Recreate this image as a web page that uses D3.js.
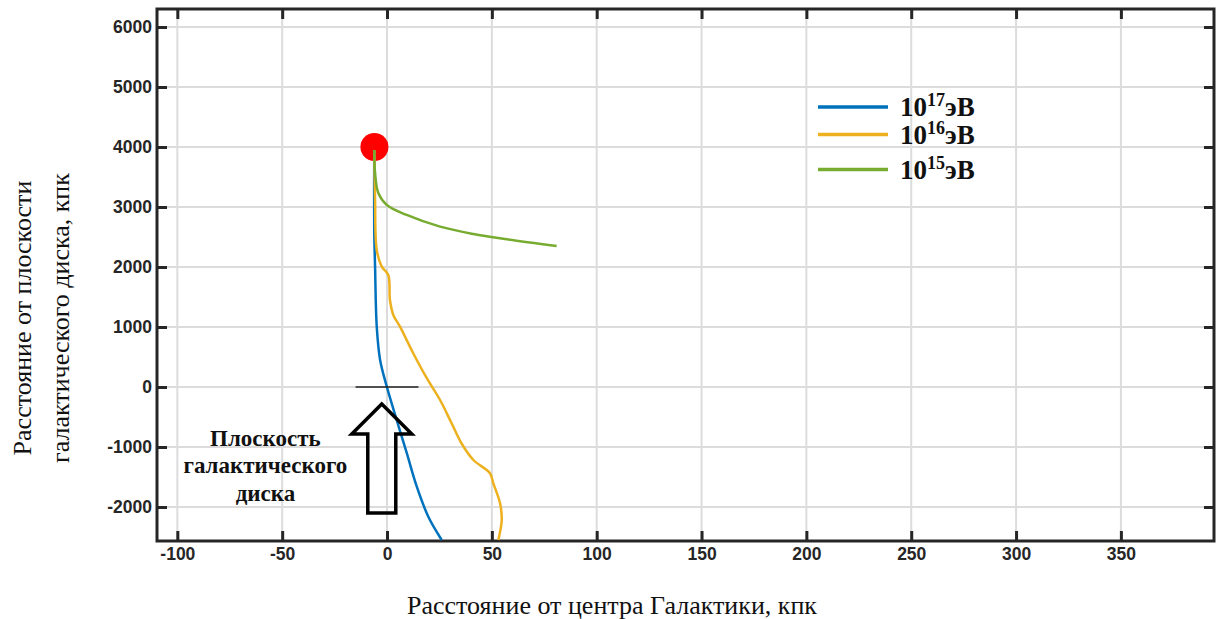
<!DOCTYPE html>
<html>
<head>
<meta charset="utf-8">
<script src="https://cdn.jsdelivr.net/npm/d3@7"></script>
<style>
  body { margin: 0; background: #fff; }
  .tick text { font-family: "Liberation Sans", Arial, sans-serif; font-weight: bold; font-size: 17.5px; fill: #262626; }
</style>
</head>
<body>
<div id="chart"></div>
<script>
// Data (x: kpc from galactic centre, y: kpc from disk plane)
const xTicks = [-100, -50, 0, 50, 100, 150, 200, 250, 300, 350];
const yTicks = [-2000, -1000, 0, 1000, 2000, 3000, 4000, 5000, 6000];

const e17x = [-6.1, -6.1, -5.7, -4.9, -3.3, -0.1, 4.6, 9.4, 14.2, 19.7, 26.1];
const e17y = [3950, 2617, 2005, 1005, 450, 5, -550, -1100, -1662, -2162, -2550];

const e16x = [-6.1, -5.7, -4.9, -2.5, 0.6, 1.4, 3.0, 6.2, 12.5, 18.9, 25.3, 30.8, 35.5, 41.2, 49.1, 50.7, 53.9, 54.7, 53.1];
const e16y = [3950, 3117, 2283, 2005, 1867, 1450, 1200, 1005, 562, 150, -217, -605, -938, -1217, -1438, -1605, -1938, -2217, -2550];

const e15x = [-6.1, -5.7, -4.1, -0.1, 9.4, 25.3, 41.2, 57.2, 80.9];
const e15y = [3950, 3567, 3228, 3033, 2867, 2672, 2550, 2462, 2350];

const source = [-6, 4000];
const diskLine = [-15, 15];

const seriesNames = ["17", "16", "15"];
const seriesColors = ["#0072BD", "#EDB120", "#77AC30"];

// Environment
const W = 1216, H = 619;
const margin = {top: 9, right: 2, bottom: 78, left: 157};
const width = W - margin.left - margin.right;
const height = H - margin.top - margin.bottom;

const svg = d3.select("#chart").append("svg")
  .attr("width", W).attr("height", H)
  .style("background", "#fff");

const g = svg.append("g").attr("transform", "translate(" + margin.left + "," + margin.top + ")");

const x = d3.scaleLinear().domain([-109.7, 394.4]).range([0, width]);
const y = d3.scaleLinear().domain([-2567, 6300]).range([height, 0]);

// grid
g.append("g").selectAll("line").data(xTicks).join("line")
  .attr("x1", d => x(d)).attr("x2", d => x(d))
  .attr("y1", 0).attr("y2", height)
  .attr("stroke", "#dcdcdc").attr("stroke-width", 2);
g.append("g").selectAll("line").data(yTicks).join("line")
  .attr("y1", d => y(d)).attr("y2", d => y(d))
  .attr("x1", 0).attr("x2", width)
  .attr("stroke", "#dcdcdc").attr("stroke-width", 2);

// axes (ticks inward)
function styleAxis(sel) {
  sel.select(".domain").remove();
  sel.selectAll(".tick line").attr("stroke", "#262626").attr("stroke-width", 3);
}
const fmt = d => String(d);
g.append("g").attr("transform", "translate(0," + height + ")")
  .call(d3.axisBottom(x).tickValues(xTicks).tickSize(-10).tickPadding(7).tickFormat(fmt))
  .call(styleAxis);
g.append("g")
  .call(d3.axisTop(x).tickValues(xTicks).tickSize(-10).tickFormat(""))
  .call(styleAxis);
g.append("g")
  .call(d3.axisLeft(y).tickValues(yTicks).tickSize(-10).tickPadding(5).tickFormat(fmt))
  .call(styleAxis);
g.append("g").attr("transform", "translate(" + width + ",0)")
  .call(d3.axisRight(y).tickValues(yTicks).tickSize(-10).tickFormat(""))
  .call(styleAxis);

// frame
g.append("rect").attr("width", width).attr("height", height)
  .attr("fill", "none").attr("stroke", "#262626").attr("stroke-width", 3);

// trajectories
const line = d3.line().x(d => x(d[0])).y(d => y(d[1])).curve(d3.curveCatmullRom.alpha(0.5));
const series = [d3.zip(e17x, e17y), d3.zip(e16x, e16y), d3.zip(e15x, e15y)];

g.append("circle").attr("cx", x(source[0])).attr("cy", y(source[1])).attr("r", 14).attr("fill", "#ff0000");

series.forEach((s, i) => {
  g.append("path").datum(s).attr("d", line)
    .attr("fill", "none").attr("stroke", seriesColors[i]).attr("stroke-width", 2.5);
});

// disk plane marker
g.append("line")
  .attr("x1", x(diskLine[0])).attr("x2", x(diskLine[1]))
  .attr("y1", y(0)).attr("y2", y(0))
  .attr("stroke", "#222").attr("stroke-width", 1.3);

// hollow arrow pointing at the plane
const ax = x(-2.5), tipY = y(0) + 17;
const arrowPts = [
  [ax, tipY], [ax + 30, tipY + 30], [ax + 14, tipY + 30], [ax + 14, tipY + 109],
  [ax - 14, tipY + 109], [ax - 14, tipY + 30], [ax - 30, tipY + 30]
];
g.append("polygon").attr("points", arrowPts.map(p => p.join(",")).join(" "))
  .attr("fill", "none").attr("stroke", "#000").attr("stroke-width", 3.5).attr("stroke-linejoin", "miter");

// annotation
const note = ["Плоскость", "галактического", "диска"];
g.append("text")
  .attr("x", x(-58)).attr("y", y(0) + 59)
  .attr("text-anchor", "middle")
  .style("font-family", "'Liberation Serif', 'Times New Roman', serif")
  .style("font-weight", "bold").style("font-size", "23px").attr("fill", "#111")
  .selectAll("tspan").data(note).join("tspan")
  .attr("x", x(-58)).attr("dy", (d, i) => i ? 27.5 : 0).text(d => d);

// legend
const legend = g.append("g").attr("transform", "translate(" + (818 - margin.left) + "," + (107 - margin.top) + ")");
seriesNames.forEach((n, i) => {
  const row = legend.append("g").attr("transform", "translate(0," + [0, 27.5, 62.5][i] + ")");
  row.append("line").attr("x1", 0).attr("x2", 70).attr("stroke", seriesColors[i]).attr("stroke-width", 3.5);
  const t = row.append("text").attr("x", 82).attr("y", 9)
    .style("font-family", "'Liberation Serif', 'Times New Roman', serif")
    .style("font-weight", "bold").style("font-size", "27px").attr("fill", "#111");
  t.append("tspan").text("10");
  t.append("tspan").attr("dy", -10).style("font-size", "18px").text(n);
  t.append("tspan").attr("dy", 10).text("эВ");
});

// axis titles
svg.append("text")
  .attr("x", 612).attr("y", 614).attr("text-anchor", "middle")
  .style("font-family", "'Liberation Serif', 'Times New Roman', serif")
  .style("font-size", "26px").attr("fill", "#111")
  .text("Расстояние от центра Галактики, кпк");

const yTitle = svg.append("text")
  .attr("transform", "translate(31,318) rotate(-90)")
  .attr("text-anchor", "middle")
  .style("font-family", "'Liberation Serif', 'Times New Roman', serif")
  .style("font-size", "26px").attr("fill", "#111");
yTitle.append("tspan").attr("x", 0).attr("y", 0).text("Расстояние от плоскости");
yTitle.append("tspan").attr("x", 0).attr("y", 38).text("галактического диска, кпк");
</script>
</body>
</html>
